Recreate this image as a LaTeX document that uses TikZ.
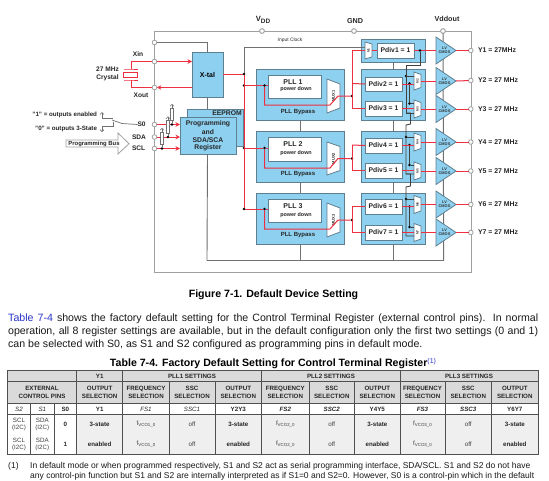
\documentclass[tikz,border=0pt]{standalone}
\usepackage{fontspec}
\setmainfont{Liberation Sans}
\usetikzlibrary{arrows.meta}
\definecolor{bfill}{HTML}{8ED0F0}
\definecolor{bedge}{HTML}{5E7F90}
\definecolor{rail}{HTML}{A0A0A0}
\definecolor{wire}{HTML}{707070}
\definecolor{rd}{HTML}{EE2F40}
\definecolor{hdr}{HTML}{DADADA}
\definecolor{cellg}{HTML}{EFEFEF}
\definecolor{tline}{HTML}{505050}
\definecolor{lnk}{HTML}{2A35C8}
\newcommand\fs[1]{\fontsize{#1}{#1}\selectfont}
\newcounter{cellno}
\tikzset{
  x=1pt,y=-1pt,
  bluebox/.style={draw=bedge,fill=bfill,line width=1pt,inner sep=0pt,outer sep=0pt},
  whitebox/.style={draw=bedge,fill=white,line width=1pt,inner sep=0pt,outer sep=0pt},
  ghost/.style={inner sep=0pt,outer sep=0pt},
  pinc/.style={circle,draw=rail,fill=white,line width=.8pt,minimum size=4.6pt,inner sep=0pt,outer sep=0pt},
  jdot/.style={circle,fill=black,minimum size=2.8pt,inner sep=0pt,outer sep=0pt},
  railw/.style={draw=rail,line width=1pt},
  grayw/.style={draw=wire,line width=.9pt},
  redw/.style={draw=rd,line width=1pt},
  redarrow/.style={redw,-{Stealth[length=4.5pt,width=4.5pt]}},
  lab/.style={inner sep=0pt,outer sep=0pt,font=\bfseries\fs{6.6},text=black!85},
  cellb/.style={inner sep=0pt,font=\bfseries\fs{6.2},align=center,text=black!85},
  celln/.style={inner sep=0pt,font=\fs{6.2},align=center,text=black!75},
  celli/.style={inner sep=0pt,font=\itshape\fs{6.2},align=center,text=black!85},
  cellbi/.style={inner sep=0pt,font=\bfseries\itshape\fs{6.2},align=center,text=black!85},
  bodytxt/.style={inner sep=0pt,anchor=base west,font=\fs{10.6},text=black!90},
  fn/.style={inner sep=0pt,anchor=base west,font=\fs{8.5},text=black!90},
  resist/.style={draw=wire,fill=white,line width=.7pt,inner sep=0pt,outer sep=0pt,minimum width=3.6pt,minimum height=12.5pt},
  tip/.style={draw=wire,line width=.7pt,-{Straight Barb[length=2pt,width=4pt]}},
}
% box: style, name, x1,y1,x2,y2,text
\newcommand\bx[7]{\pgfmathsetmacro\cxa{(#3+#5)/2}\pgfmathsetmacro\cya{(#4+#6)/2}%
  \node[#1,minimum width={(#5-#3)*1pt},minimum height={(#6-#4)*1pt},align=center] (#2) at (\cxa,\cya) {#7};}
% mux: name,x1,x2,yc,hl,hr,label,size
\newcommand\mux[8]{\draw[draw=bedge,fill=white,line width=.8pt] (#2,{#4-#5}) -- (#3,{#4-#6}) -- (#3,{#4+#6}) -- (#2,{#4+#5}) -- cycle;
  \pgfmathsetmacro\cxa{(#2+#3)/2}%
  \node[ghost,minimum width={(#3-#2)*1pt},minimum height={2*#5*1pt}] (#1) at (\cxa,#4) {};
  \node[ghost,rotate=90,font=\bfseries\fs{#8},text=black!80] (#1-t) at (#1.center) {#7};}
% buffer: name,yc
\newcommand\buf[2]{\draw[draw=bedge,fill=bfill,line width=.8pt] (436,{#2-13.5}) -- (456,#2) -- (436,{#2+13.5}) -- cycle;
  \node[ghost,minimum width=20pt,minimum height=27pt] (#1) at (446,#2) {};
  \node[ghost,align=center,font=\bfseries\fs{3.9},text=black!80] (#1-t) at (444.5,#2) {LV\\[.4pt]CMOS};}
\newcommand\cell[4]{\stepcounter{cellno}\node[#1] (cell-\arabic{cellno}) at (#2,#3) {#4};}
\newcommand\fvco[1]{f\raisebox{-1.2pt}{\fs{4.4}VCO#1\_0}}
\begin{document}
\begin{tikzpicture}
\useasboundingbox (0,0) rectangle (549,480);
\clip (0,0) rectangle (549,480);
\fill[white] (0,0) rectangle (549,480);
% ---------- pins on rails
\node[pinc] (vdd) at (262,31) {};
\node[pinc] (gnd) at (354,31) {};
\node[pinc] (vddo) at (443,31) {};
\coordinate (railTL) at (154.5,31);
\coordinate (railTR) at (471,31);
\coordinate (railBL) at (154.5,272);
\coordinate (railBR) at (471,272);
\draw[railw] (railBL) -- (railTL) -- (railTR) -- (railBR) -- cycle;
\node[pinc] (vdd) at (262,31) {};
\node[pinc] (gnd) at (354,31) {};
\node[pinc] (vddo) at (443,31) {};
\coordinate (busL) at (207,260.5);
\coordinate (busR) at (443.7,260.5);
\coordinate (inL) at (244,47);
% ---------- containers
\bx{bluebox}{pll1}{256}{69.5}{344}{120}{}
\bx{bluebox}{pll2}{256}{131.5}{344}{182}{}
\bx{bluebox}{pll3}{256}{193}{344}{244}{}
\bx{bluebox}{cont1}{361}{39}{425}{62}{}
\bx{bluebox}{cont2}{361}{69.5}{425}{120}{}
\bx{bluebox}{cont3}{361}{131.5}{425}{182}{}
\bx{bluebox}{cont4}{361}{193}{425}{244}{}
\bx{bluebox}{xtal}{192}{52}{223}{97}{\bfseries\fs{7}X-tal}
\bx{bluebox}{eeprom}{187}{109}{243}{146}{}
\bx{bluebox}{prog}{180}{117}{236}{154}{}
\node[lab,font=\bfseries\fs{6.8}] (eetxt) at (227,113) {EEPROM};
\node[lab,font=\bfseries\fs{6.8}] (pr1) at (208,124) {Programming};
\node[lab,font=\bfseries\fs{6.8}] (pr2) at (208,132) {and};
\node[lab,font=\bfseries\fs{6.8}] (pr3) at (208,140) {SDA/SCA};
\node[lab,font=\bfseries\fs{6.8}] (pr4) at (208,148) {Register};
% ---------- gray supply wires
\node[pinc] (vtap) at (154.5,42.5) {};
\draw[grayw] (vtap) -| (xtal.north);
\draw[grayw] (xtal.south) -- (xtal.south |- eeprom.north);
\draw[grayw] (prog.south -| xtal.south) -- (busL);
\draw[railw,draw=wire] (busL) -- (busR);
\draw[railw,draw=wire] (vddo) -- (busR);
\draw[grayw] (pll1.south) -- (pll2.north);
\draw[grayw] (pll2.south) -- (pll3.north);
\draw[grayw] (pll3.south) -- (pll3.south |- busL);
\draw[grayw] (cont1.south) -- (cont2.north);
\draw[grayw] (cont2.south) -- (cont3.north);
\draw[grayw] (cont3.south) -- (cont4.north);
\draw[grayw] (cont4.south) -- (cont4.south |- busL);
% ---------- PLL boxes
\bx{whitebox}{pll1w}{268}{75}{321}{98}{}
\bx{whitebox}{pll2w}{268}{137}{321}{161}{}
\bx{whitebox}{pll3w}{268}{199}{321}{222}{}
\node[lab,font=\bfseries\fs{7}] (p1a) at (293,82) {PLL 1};
\node[lab,font=\bfseries\fs{5.4}] (p1b) at (296,89) {power down};
\node[lab,font=\bfseries\fs{7}] (p2a) at (293,144) {PLL 2};
\node[lab,font=\bfseries\fs{5.4}] (p2b) at (296,153) {power down};
\node[lab,font=\bfseries\fs{7}] (p3a) at (293,206) {PLL 3};
\node[lab,font=\bfseries\fs{5.4}] (p3b) at (296,215) {power down};
\node[lab,font=\bfseries\fs{6}] (b1) at (298,112) {PLL Bypass};
\node[lab,font=\bfseries\fs{6}] (b2) at (298,174.5) {PLL Bypass};
\node[lab,font=\bfseries\fs{6}] (b3) at (298,235.5) {PLL Bypass};
\mux{mx1}{327}{340}{96}{17}{12}{MUX1}{4}
\mux{mx2}{327}{340}{158.5}{16.5}{12}{MUX2}{4}
\mux{mx3}{327}{340}{220}{17}{12}{MUX3}{4}
% ---------- dividers
\tikzset{pd/.style={whitebox,font=\bfseries\fs{6.8},text=black!85}}
\bx{pd}{pd1}{377}{43}{414}{58}{Pdiv1 = 1}
\bx{pd}{pd2}{365}{77}{402}{91}{Pdiv2 = 1}
\bx{pd}{pd3}{365}{101}{402}{116}{Pdiv3 = 1}
\bx{pd}{pd4}{365}{138}{402}{153}{Pdiv4 = 1}
\bx{pd}{pd5}{365}{163}{402}{178}{Pdiv5 = 1}
\bx{pd}{pd6}{365}{199}{402}{214}{Pdiv6 = 1}
\bx{pd}{pd7}{365}{225}{402}{240}{Pdiv7 = 1}
\mux{m1}{365}{372}{50.5}{8.5}{6.5}{M1}{3.2}
\mux{m2}{414}{421}{81}{9}{6.5}{M2}{3.2}
\mux{m3}{414}{421}{109}{9}{6.5}{M3}{3.2}
\mux{m4}{414}{421}{142}{9}{6.5}{M4}{3.2}
\mux{m5}{414}{421}{171}{9}{6.5}{M5}{3.2}
\mux{m6}{414}{421}{204.5}{9}{6.5}{M6}{3.2}
\mux{m7}{414}{421}{232.5}{9}{6.5}{M7}{3.2}
% ---------- buffers
\buf{y1}{50.5}\buf{y2}{81}\buf{y3}{109}\buf{y4}{142}\buf{y5}{171}\buf{y6}{204.5}\buf{y7}{232.5}
\foreach \n/\yy/\t in {1/50.5/Y1 = 27MHz,2/80.5/Y2 = 27 MHz,3/109/Y3 = 27 MHz,4/142/Y4 = 27 MHz,5/171/Y5 = 27 MHz,6/204.5/Y6 = 27 MHz,7/232.5/Y7 = 27 MHz}{
  \node[pinc] (o\n) at (470.8,\yy) {};
  \draw[redw] (y\n.east) -- (o\n);
  \node[lab,anchor=west,font=\bfseries\fs{6.9}] (ot\n) at (478,\yy) {\t};
}
% ---------- input clock and red clock tree
\node[jdot] (j0) at (244,74) {};
\node[jdot] (j1) at (244,85.5) {};
\node[jdot] (j2) at (244,148) {};
\node[jdot] (j3) at (244,209) {};
\node[jdot] (k1) at (264.5,85.5) {};
\node[jdot] (k2) at (264.5,148) {};
\node[jdot] (k3) at (264.5,209) {};
\draw[grayw] (j0) -- (inL) -- (inL -| m1.west);
\draw[redw] (xtal.east |- j0) -- (j0) -- (j3);
\draw[redw] (j1) -- (k1) -- (k1 -| pll1w.west);
\draw[redw] (j2) -- (k2) -- (k2 -| pll2w.west);
\draw[redw] (j3) -- (k3) -- (k3 -| pll3w.west);
\node[jdot] (o1) at (352,96) {};
\node[jdot] (o2) at (352,158.5) {};
\node[jdot] (o3) at (352,220) {};
\draw[redw] (k1) -- (264.5,105) -- (330,105) -- (338,96) -- (o1);
\draw[redw] (k2) -- (264.5,168) -- (330,168) -- (338,158.5) -- (o2);
\draw[redw] (k3) -- (264.5,229) -- (330,229) -- (338,220) -- (o3);
\draw[redw] (m1.west) -- (352,50.5) -- (352,108.5) -- (pd3.west);
\draw[redw] (352,83.5) -- (pd2.west);
\draw[redw] (352,145) -- (pd4.west);
\draw[redw] (352,145) -- (352,170.5) -- (pd5.west);
\draw[redw] (352,206.5) -- (pd6.west);
\draw[redw] (352,206.5) -- (352,232.5) -- (pd7.west);
\draw[redw] (m1.east) -- (pd1.west);
\draw[redw] (pd1.east) -- (y1.west);
% dark select and bypass wires
\node[jdot] (d1) at (420,50.5) {};
\node[jdot] (ta) at (406,76) {};
\node[jdot] (tb) at (406,137) {};
\node[jdot] (tc) at (406,199) {};
\node[jdot] (s2) at (409.5,83.5) {};
\node[jdot] (s3) at (409.5,145) {};
\node[jdot] (s4) at (409.5,206.5) {};
\node[jdot] (t2) at (409.5,103.5) {};
\node[jdot] (t4) at (409.5,165) {};
\node[jdot] (t6) at (409.5,227) {};
\draw[grayw,draw=black!75] (d1) -- (420,65) -- (406,65) -- (406,113) -- (414,113);
\draw[grayw,draw=black!75] (406,113) -- (410.5,113) -- (410.5,124) -- (406,125) -- (406,174) -- (414,174) ;
\draw[grayw,draw=black!75] (406,174) -- (410.5,174) -- (410.5,186) -- (406,187) -- (406,236) -- (414,236);
\draw[grayw,draw=black!75] (ta) -- (ta -| m2.west);
\draw[grayw,draw=black!75] (tb) -- (tb -| m4.west);
\draw[grayw,draw=black!75] (tc) -- (tc -| m6.west);
\draw[grayw,draw=black!75] (s2) -- (t2) -- (t2 -| m3.west);
\draw[grayw,draw=black!75] (s3) -- (t4) -- (t4 -| m5.west);
\draw[grayw,draw=black!75] (s4) -- (t6) -- (t6 -| m7.west);
\foreach \a/\b/\c in {pd2/m2/y2,pd3/m3/y3,pd4/m4/y4,pd5/m5/y5,pd6/m6/y6,pd7/m7/y7}{
  \draw[redw] (\a.east) -- (\a.east -| \b.west);
  \draw[redw] (\b.east) -- (\c.west);
}
% ---------- top labels
\node[lab,font=\bfseries\fs{7.6}] (vddt) at (263,20) {V\raisebox{-1.4pt}{\fs{6.4}DD}};
\node[lab,font=\bfseries\fs{7.2}] (gndt) at (355,21) {GND};
\node[lab,font=\bfseries\fs{7.2}] (vot) at (447,19) {Vddout};
\node[lab,font=\fs{4.9}] (ict) at (290,40) {Input Clock};
% ---------- crystal
\node[pinc] (xin) at (154.5,61.5) {};
\node[pinc] (xout) at (154.5,87.5) {};
\draw[redarrow] (xin) -- (xin -| xtal.west);
\draw[redarrow] (xout -| xtal.west) -- (xout);
\node[draw=rd,fill=white,line width=.9pt,minimum width=14pt,minimum height=5pt,inner sep=0pt] (cry) at (130.5,74.5) {};
\coordinate (ct) at (131,69);
\coordinate (cb) at (131,80);
\draw[redw] (xin) -- (xin -| ct) -- (ct);
\draw[redw] (xout) -- (xout -| cb) -- (cb);
\draw[redw] (124,69) -- (ct) -- (138,69);
\draw[redw] (124,80) -- (cb) -- (138,80);
\node[lab,font=\bfseries\fs{6.6}] (xint) at (138,54) {Xin};
\node[lab,font=\bfseries\fs{6.6}] (xott) at (141,95) {Xout};
\node[lab,font=\bfseries\fs{6.6},align=center] (cryt) at (107.5,74) {27 MHz\\[1.2pt]Crystal};
% ---------- programming pins
\node[pinc] (s0) at (154.5,124.5) {};
\node[pinc] (sda) at (154.5,137) {};
\node[pinc] (scl) at (154.5,148.5) {};
\draw[redarrow] (s0) -- (s0 -| prog.west);
\draw[redarrow] (sda) -- (sda -| prog.west);
\draw[redarrow] (scl) -- (scl -| prog.west);
\node[jdot] (ds0) at (172,124.5) {};
\node[jdot] (dsda) at (168,137) {};
\node[jdot] (dscl) at (162,148.5) {};
\node[resist] (r0) at (172,114.5) {};
\node[resist] (r1) at (168,127) {};
\node[resist] (r2) at (162,138.5) {};
\draw[grayw,line width=.7pt] (ds0) -- (r0.south);
\draw[grayw,line width=.7pt] (dsda) -- (r1.south);
\draw[grayw,line width=.7pt] (dscl) -- (r2.south);
\draw[tip] (r0.north) -- ++(0,-4.5);
\draw[tip] (r1.north) -- ++(0,-4.5);
\draw[tip] (r2.north) -- ++(0,-4.5);
\node[lab,anchor=west,font=\bfseries\fs{6.6}] (s0t) at (137.5,124.5) {S0};
\node[lab,anchor=west,font=\bfseries\fs{6.6}] (sdat) at (132,137) {SDA};
\node[lab,anchor=west,font=\bfseries\fs{6.6}] (sclt) at (132,148.5) {SCL};
% switch
\node[lab,anchor=east,font=\bfseries\fs{6.2}] (en) at (97,115) {"1" = outputs enabled};
\node[lab,anchor=east,font=\bfseries\fs{6.2}] (ts) at (97,129) {"0" = outputs 3-State};
\coordinate (swa) at (102,118.3);
\coordinate (swb) at (102,126);
\draw[tip] (113,118.3) -- (swa) -- (102,112);
\draw[tip] (113,122) -- (113,126) -- (swb) -- (102,132);
\draw[grayw,line width=.7pt] (112,120) -- (122,123.5) -- (s0t.west);
% programming bus
\draw[draw=rail,fill=white,line width=.8pt] (66,140) -- (118,140) -- (118,133) -- (129,143.7) -- (118,154) -- (118,147) -- (66,147) -- cycle;
\node[lab,font=\bfseries\fs{5.9}] (pbus) at (94,143.5) {Programming Bus};
% ---------- text
\node[lab,font=\bfseries\fs{10.6},text=black] (figt) at (273.5,295) {Figure 7-1. Default Device Setting};
\node[bodytxt] (l1) at (8,321.5) {\makebox[530pt][s]{\textcolor{lnk}{Table 7-4} shows the factory default setting for the Control Terminal Register (external control pins). In normal}};
\node[bodytxt] (l2) at (8,334.5) {\makebox[530pt][s]{operation, all 8 register settings are available, but in the default configuration only the first two settings (0 and 1)}};
\node[bodytxt] (l3) at (8,347) {can be selected with S0, as S1 and S2 configured as programming pins in default mode.};
\node[lab,font=\bfseries\fs{10.6},text=black] (tabt) at (273,363.5) {Table 7-4. Factory Default Setting for Control Terminal Register\textcolor{lnk}{\raisebox{3.5pt}{\fs{7}\mdseries(1)}}};
% ---------- table
\fill[hdr] (7.5,370) rectangle (538,403.5);
\fill[cellg] (76.7,414) rectangle (538,454);
\draw[tline,line width=.9pt] (7.5,370) rectangle (538,454);
\draw[tline,line width=.9pt] (7.5,381) -- (538,381);
\draw[tline,line width=.9pt] (7.5,403.5) -- (538,403.5);
\draw[tline,line width=.9pt] (7.5,414) -- (538,414);
\foreach \xx in {76.7,122.7,261.7,400}{\draw[tline,line width=.9pt] (\xx,370) -- (\xx,454);}
\foreach \xx in {169,215,309,354.7,445,491.7}{\draw[tline,line width=.9pt] (\xx,381) -- (\xx,454);}
\foreach \xx in {30.7,54}{\draw[tline,line width=.9pt] (\xx,403.5) -- (\xx,454);}
\cell{cellb}{99.7}{376}{Y1}
\cell{cellb}{192}{376}{PLL1 SETTINGS}
\cell{cellb}{331}{376}{PLL2 SETTINGS}
\cell{cellb}{469}{376}{PLL3 SETTINGS}
\cell{cellb}{42}{392}{EXTERNAL\\[1.6pt]CONTROL PINS}
\foreach \xx/\a/\b in {99.7/OUTPUT/SELECTION,146/FREQUENCY/SELECTION,192/SSC/SELECTION,238.3/OUTPUT/SELECTION,285.3/FREQUENCY/SELECTION,331.8/SSC/SELECTION,377.3/OUTPUT/SELECTION,422.5/FREQUENCY/SELECTION,468.3/SSC/SELECTION,514.8/OUTPUT/SELECTION}{
  \cell{cellb}{\xx}{392}{\a\\[1.6pt]\b}
}
\cell{celli}{19}{409}{S2}
\cell{celli}{42.3}{409}{S1}
\cell{cellb}{65.3}{409}{S0}
\cell{cellb}{99.7}{409}{Y1}
\cell{celli}{146}{409}{FS1}
\cell{celli}{192}{409}{SSC1}
\cell{cellb}{238.3}{409}{Y2Y3}
\cell{cellbi}{285.3}{409}{FS2}
\cell{cellbi}{331.8}{409}{SSC2}
\cell{cellb}{377.3}{409}{Y4Y5}
\cell{cellbi}{422.5}{409}{FS3}
\cell{cellbi}{468.3}{409}{SSC3}
\cell{cellb}{514.8}{409}{Y6Y7}
\foreach \yy/\zz/\s/\e in {424.5/0/0/3-state,444.5/1/1/enabled}{
  \cell{celln}{19}{\yy}{SCL\\(I2C)}
  \cell{celln}{42.3}{\yy}{SDA\\(I2C)}
  \cell{cellb}{65.3}{\yy}{\s}
  \cell{cellb}{99.7}{\yy}{\e}
  \cell{celln}{146}{\yy}{\fvco{1}}
  \cell{celln}{192}{\yy}{off}
  \cell{cellb}{238.3}{\yy}{\e}
  \cell{celln}{285.3}{\yy}{\fvco{2}}
  \cell{celln}{331.8}{\yy}{off}
  \cell{cellb}{377.3}{\yy}{\e}
  \cell{celln}{422.5}{\yy}{\fvco{3}}
  \cell{celln}{468.3}{\yy}{off}
  \cell{cellb}{514.8}{\yy}{\e}
}
% ---------- footnote
\node[fn] (f0) at (8,468.5) {(1)};
\node[fn] (f1) at (30,468.5) {In default mode or when programmed respectively, S1 and S2 act as serial programming interface, SDA/SCL. S1 and S2 do not have};
\node[fn] (f2) at (30,478) {any control-pin function but S1 and S2 are internally interpreted as if S1=0 and S2=0. However, S0 is a control-pin which in the default};
\end{tikzpicture}
\end{document}
